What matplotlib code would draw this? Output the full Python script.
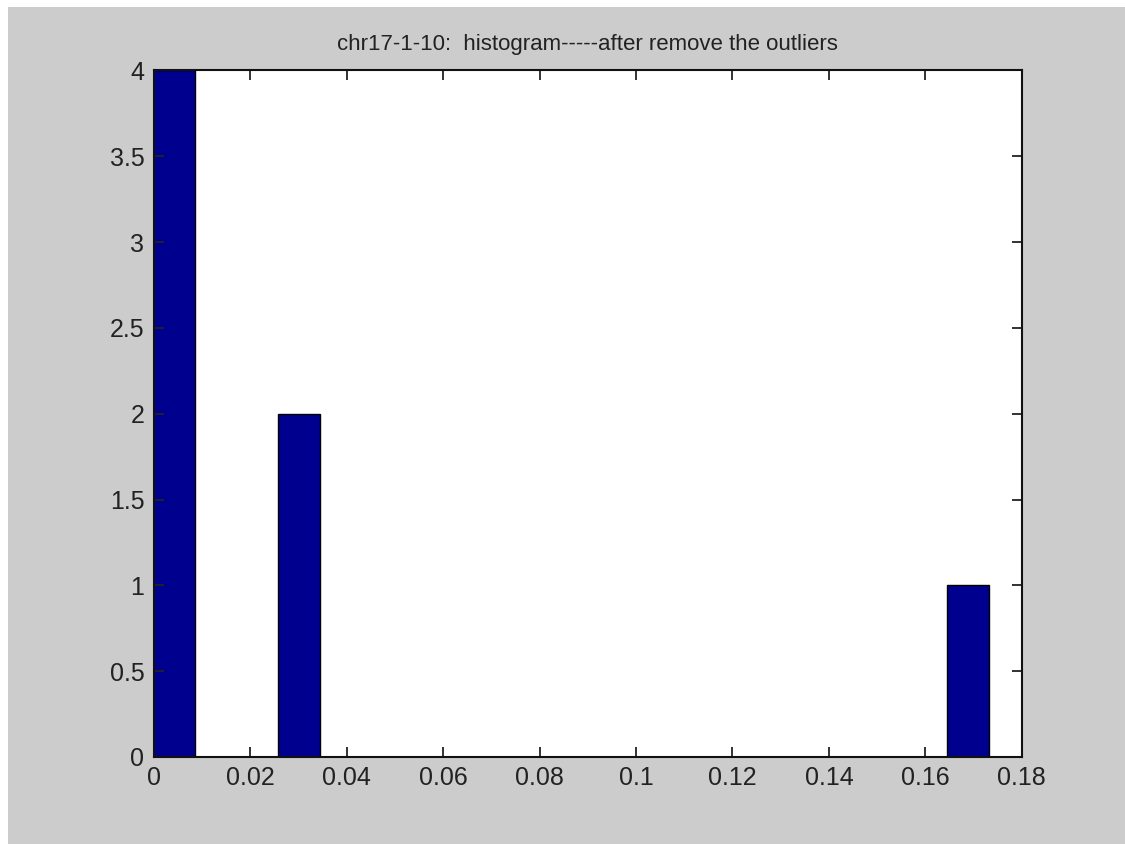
import matplotlib
matplotlib.use('Agg')
import matplotlib.pyplot as plt
from matplotlib.patches import Rectangle
from matplotlib.ticker import FuncFormatter

# histogram values
bin_centers = [0.0040, 0.0301, 0.1689]
counts = [4, 2, 1]
bin_width = 0.0088
x_ticks = [0, 0.02, 0.04, 0.06, 0.08, 0.1, 0.12, 0.14, 0.16, 0.18]
y_ticks = [0, 0.5, 1, 1.5, 2, 2.5, 3, 3.5, 4]
title = 'chr17-1-10:  histogram-----after remove the outliers'

plt.rcParams['font.family'] = ['Liberation Sans', 'DejaVu Sans']

fig = plt.figure(figsize=(11.25, 8.44), dpi=100, facecolor='white')
# grey matlab window area, leaves a thin white strip top and left
fig.patches.append(Rectangle((8/1125., 0), 1, 1-7/844., transform=fig.transFigure,
                             facecolor='#cccccc', edgecolor='none', zorder=-10))

ax = fig.add_axes([0.1369, 0.1031, 0.7713, 0.8134])
ax.set_facecolor('white')
ax.bar(bin_centers, counts, width=bin_width, color=(0, 0, 0.5625),
       edgecolor='black', linewidth=1.0)

ax.set_xlim(0, 0.18)
ax.set_ylim(0, 4)
ax.set_xticks(x_ticks)
ax.set_yticks(y_ticks)
ax.xaxis.set_major_formatter(FuncFormatter(lambda v, p: '%g' % v))
ax.yaxis.set_major_formatter(FuncFormatter(lambda v, p: '%g' % v))

ax.tick_params(axis='both', direction='in', length=7, width=1.3, colors='#222222',
               top=True, right=True, labelsize=18)
ax.tick_params(axis='x', pad=6.5)
ax.tick_params(axis='y', pad=7)
for s in ax.spines.values():
    s.set_linewidth(1.5)
    s.set_color('#111111')

ax.set_title(title, fontsize=16, color='#222222', pad=15)

fig.savefig('out.png', dpi=100, facecolor=fig.get_facecolor())
